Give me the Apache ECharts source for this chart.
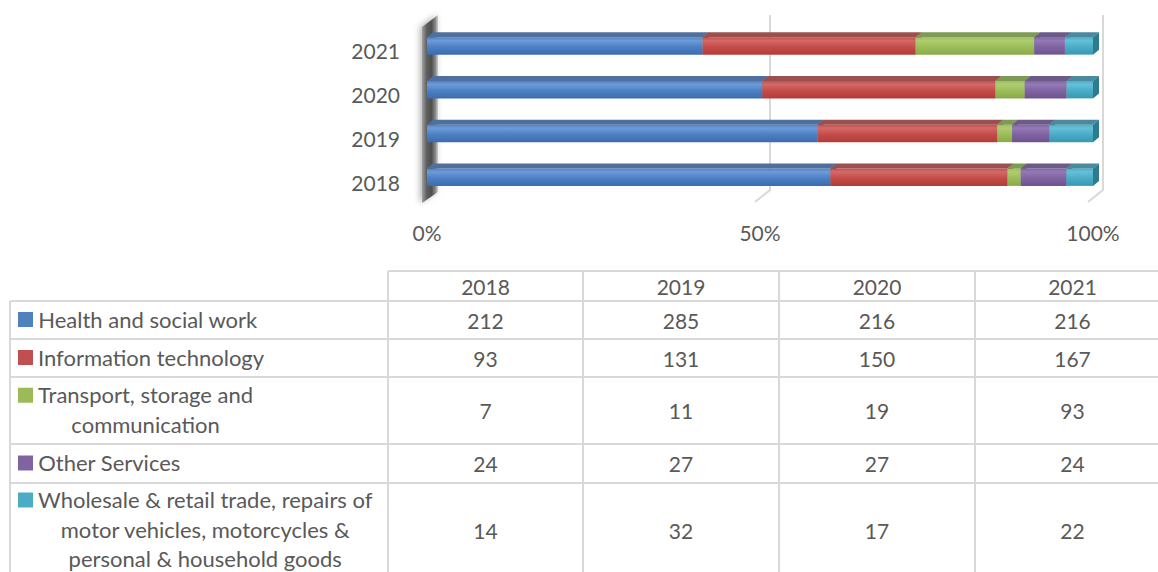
<!DOCTYPE html>
<html lang="en" style="height: 100%">
<head>
    <meta charset="utf-8">
</head>
<body style="height: 100%; margin: 0; background: #fff">
    <div id="container" style="width: 1158px; height: 572px"></div>
    <script type="text/javascript" src="https://cdn.jsdelivr.net/npm/echarts@6.0.0/dist/echarts.min.js"></script>
    <script type="text/javascript">
        // data
        var years = ['2018', '2019', '2020', '2021'];
        var seriesNames = ['Health and social work', 'Information technology',
            'Transport, storage and communication', 'Other Services',
            'Wholesale & retail trade, repairs of motor vehicles, motorcycles & personal & household goods'];
        // how the names wrap inside the data table
        var tableLabels = ['Health and social work', 'Information technology',
            'Transport, storage and\ncommunication', 'Other Services',
            'Wholesale & retail trade, repairs of\nmotor vehicles, motorcycles &\npersonal & household goods'];
        var health = [212, 285, 216, 216];
        var infoTech = [93, 131, 150, 167];
        var transport = [7, 11, 19, 93];
        var otherServices = [24, 27, 27, 24];
        var wholesale = [14, 32, 17, 22];
        var percentTicks = [0, 50, 100];

        var values = [health, infoTech, transport, otherServices, wholesale];

        // styles (front gradient top/mid/bottom, top face, side face, key)
        var palette = [
            { front: ['#6d9bd8', '#4d81c5', '#3b6cae'], top: '#4f6f9c', side: '#3a5d8c', key: '#4f81bd' },
            { front: ['#d36a67', '#c44d4a', '#b33c39'], top: '#9c504e', side: '#883937', key: '#c0504d' },
            { front: ['#afcd70', '#9dbd5a', '#8aa948'], top: '#7f9a56', side: '#6c8644', key: '#9bbb59' },
            { front: ['#9379b5', '#8165a3', '#6d538f'], top: '#6c5a88', side: '#594876', key: '#8064a2' },
            { front: ['#65c0d8', '#4badc7', '#3798b3'], top: '#4a8a9c', side: '#2e7a8f', key: '#4bacc6' }
        ];
        var textColor = '#595959';
        var borderColor = '#d9d9d9';
        var fontFamily = 'Lato';
        var fontSize = 21;
        var labelFontSize = 22;

        // percentages per year
        var totals = years.map(function (y, i) {
            return values.reduce(function (s, arr) { return s + arr[i]; }, 0);
        });
        var starts = years.map(function () { return 0; });
        var stackData = values.map(function (arr) {
            return arr.map(function (v, i) {
                var a = starts[i];
                var b = a + v / totals[i] * 100;
                starts[i] = b;
                return [i, a, b];
            });
        });

        var dx = 6, dy = 5;

        function makeBarRenderer(style) {
            return function (params, api) {
                var cat = api.value(0);
                var p0 = api.coord([api.value(1), cat]);
                var p1 = api.coord([api.value(2), cat]);
                var h = api.size([0, 1])[1] * 0.4;
                var x0 = p0[0], x1 = p1[0], y = p0[1] - h / 2;
                return {
                    type: 'group',
                    children: [
                        {
                            type: 'rect',
                            shape: { x: x0, y: y, width: x1 - x0, height: h },
                            style: {
                                fill: new echarts.graphic.LinearGradient(0, 0, 0, 1, [
                                    { offset: 0, color: style.front[1] },
                                    { offset: 0.2, color: style.front[0] },
                                    { offset: 0.55, color: style.front[1] },
                                    { offset: 1, color: style.front[2] }
                                ])
                            }
                        },
                        {
                            type: 'polygon',
                            shape: { points: [[x0, y], [x0 + dx, y - dy], [x1 + dx, y - dy], [x1, y]] },
                            style: { fill: style.top }
                        },
                        {
                            type: 'polygon',
                            shape: { points: [[x1, y], [x1 + dx, y - dy], [x1 + dx, y - dy + h], [x1, y + h]] },
                            style: { fill: style.side }
                        }
                    ]
                };
            };
        }

        function renderFrame(params, api) {
            var cs = params.coordSys;
            var x = api.coord([api.value(0), 0])[0];
            var top = cs.y, bottom = cs.y + cs.height;
            if (api.value(0) === 0) {
                // side wall
                return {
                    type: 'polygon',
                    shape: { points: [[x - 5, top + 3], [x + 11, top - 9], [x + 11, bottom - 7], [x - 5, bottom + 4]] },
                    style: {
                        fill: new echarts.graphic.LinearGradient(0, 0, 1, 0, [
                            { offset: 0, color: '#a0a0a0' },
                            { offset: 0.3, color: '#5e5e5e' },
                            { offset: 0.6, color: '#505050' },
                            { offset: 0.85, color: '#8c8c8c' },
                            { offset: 1, color: '#d2d2d2' }
                        ]),
                        shadowBlur: 6,
                        shadowColor: 'rgba(0,0,0,0.3)',
                        shadowOffsetX: -2
                    }
                };
            }
            return {
                type: 'polyline',
                shape: { points: [[x + 10, top - 9], [x + 10, bottom - 9], [x - 5, bottom + 3]] },
                style: { stroke: borderColor, lineWidth: 2, fill: null }
            };
        }

        // data table below the chart
        var colX = [388, 583, 779, 975, 1170];
        var rowY = [271, 301, 339, 377, 444, 483, 577];
        var labelLeft = 10;
        var lineGap = 29.5;
        var measure = document.createElement('canvas').getContext('2d');
        measure.font = labelFontSize + 'px ' + fontFamily;

        var table = [];
        function line(x1, y1, x2, y2) {
            table.push({
                type: 'line', silent: true,
                shape: { x1: x1, y1: y1, x2: x2, y2: y2 },
                style: { stroke: borderColor, lineWidth: 2 }
            });
        }
        function text(str, x, y, size) {
            table.push({
                type: 'text', silent: true, x: x, y: y,
                style: {
                    text: str, fill: textColor, fontSize: size || fontSize, fontFamily: fontFamily,
                    align: 'center', verticalAlign: 'middle'
                }
            });
        }
        line(colX[0], rowY[0], colX[colX.length - 1], rowY[0]);
        for (var r = 1; r < rowY.length; r++) {
            line(labelLeft, rowY[r], colX[colX.length - 1], rowY[r]);
        }
        line(labelLeft, rowY[1], labelLeft, rowY[rowY.length - 1]);
        colX.forEach(function (x) { line(x, rowY[0], x, rowY[rowY.length - 1]); });

        years.forEach(function (y, c) {
            text(y, (colX[c] + colX[c + 1]) / 2, (rowY[0] + rowY[1]) / 2);
        });
        values.forEach(function (arr, s) {
            var cy = (rowY[s + 1] + rowY[s + 2]) / 2;
            arr.forEach(function (v, c) {
                text(String(v), (colX[c] + colX[c + 1]) / 2, cy);
            });
            var lines = tableLabels[s].split('\n');
            var w = Math.max.apply(null, lines.map(function (l) { return measure.measureText(l).width; }));
            var firstY = cy - (lines.length - 1) * lineGap / 2;
            table.push({
                type: 'rect', silent: true,
                shape: { x: 18, y: firstY - 8, width: 15, height: 15 },
                style: { fill: palette[s].key }
            });
            lines.forEach(function (l, k) {
                text(l, 38 + w / 2, firstY - 1 + k * lineGap, labelFontSize);
            });
        });

        var dom = document.getElementById('container');
        var myChart = echarts.init(dom, null, { renderer: 'svg' });

        var series = values.map(function (arr, s) {
            return {
                name: seriesNames[s],
                type: 'custom',
                renderItem: makeBarRenderer(palette[s]),
                encode: { x: [1, 2], y: 0 },
                data: stackData[s],
                z: 3
            };
        });
        series.push({
            type: 'custom',
            renderItem: renderFrame,
            encode: { x: 0, y: 1 },
            data: percentTicks.map(function (t) { return [t, 0]; }),
            z: 1,
            silent: true
        });

        var option = {
            animation: false,
            grid: { left: 427, right: 65, top: 24, bottom: 373, containLabel: false },
            xAxis: {
                type: 'value', min: 0, max: 100, interval: 50,
                axisLine: { show: false }, axisTick: { show: false }, splitLine: { show: false },
                axisLabel: {
                    formatter: '{value}%', color: textColor, fontSize: fontSize,
                    fontFamily: fontFamily, margin: 23
                }
            },
            yAxis: {
                type: 'category', data: years,
                axisLine: { show: false }, axisTick: { show: false },
                axisLabel: {
                    color: textColor, fontSize: fontSize, fontFamily: fontFamily, margin: 27,
                    formatter: function (v) { return '{a|' + v + '}'; },
                    rich: { a: { color: textColor, fontSize: fontSize, fontFamily: fontFamily, padding: [10, 0, 0, 0] } }
                }
            },
            graphic: table,
            series: series
        };

        myChart.setOption(option);
        window.addEventListener('resize', myChart.resize);
    </script>
</body>
</html>
